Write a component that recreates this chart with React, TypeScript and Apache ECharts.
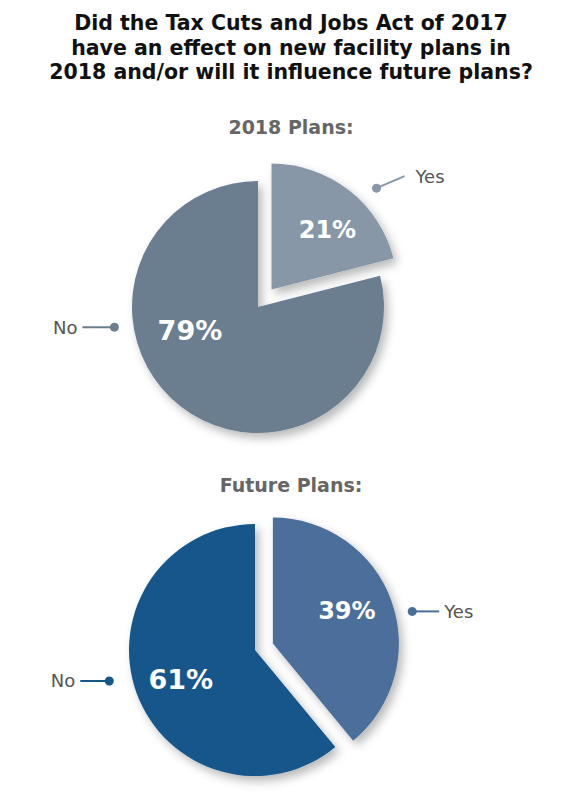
import { useEffect, useRef } from "react";
import * as echarts from "echarts";

const questionLines = [
  "Did the Tax Cuts and Jobs Act of 2017",
  "have an effect on new facility plans in",
  "2018 and/or will it influence future plans?",
];
const answers = ["Yes", "No"];
const plans2018 = [21, 79];
const plansFuture = [39, 61];
const panelTitles = ["2018 Plans:", "Future Plans:"];

const FONT = "'DejaVu Sans', Lato, sans-serif";
const RADIUS = 126;

// pct: [angle, distance] of the % label from the slice tip
// callout: [angle, distance, dx, dy, gap] of the dot, its line and the text
const panels = [
  {
    title: panelTitles[0],
    titleTop: 115,
    values: plans2018,
    colors: ["#8797a8", "#6b7e90"],
    center: [258, 307],
    offset: 22,
    pctSize: [24, 27],
    pct: [
      [43, 82],
      [251, 72],
    ],
    callout: [
      [46, 146, 28, -12, 11],
      [262, 145, -32, 0, 5],
    ],
  },
  {
    title: panelTitles[1],
    titleTop: 473,
    values: plansFuture,
    colors: ["#4b6e9b", "#14578b"],
    center: [255, 650],
    offset: 19,
    pctSize: [24, 27],
    pct: [
      [66, 81],
      [248, 80],
    ],
    callout: [
      [77, 143, 27, 0, 5],
      [258, 149, -29, 0, 5],
    ],
  },
];

type Panel = (typeof panels)[number];

const rad = (deg: number) => (deg * Math.PI) / 180;
const polar = (o: number[], deg: number, d: number) => [
  o[0] + d * Math.sin(rad(deg)),
  o[1] - d * Math.cos(rad(deg)),
];

function midAngles(values: number[]) {
  const total = values.reduce((a, b) => a + b, 0);
  let acc = 0;
  return values.map((v) => {
    const a0 = acc;
    acc += (v / total) * 360;
    return (a0 + acc) / 2;
  });
}

// tip of slice i (the "Yes" slice is pulled out)
function tip(p: Panel, i: number) {
  const mid = midAngles(p.values)[i];
  return i === 0 ? polar(p.center, mid, p.offset) : p.center;
}

const shadow = {
  shadowBlur: 10,
  shadowOffsetX: 4,
  shadowOffsetY: 5,
  shadowColor: "rgba(0, 0, 0, 0.28)",
};
const hidden = { color: "rgba(0,0,0,0)", shadowBlur: 0, shadowColor: "rgba(0,0,0,0)" };

export default function App() {
  const chartRef = useRef<HTMLDivElement>(null);

  useEffect(() => {
    if (!chartRef.current) return;
    document.body.style.margin = "0";

    const myChart = echarts.init(chartRef.current, null, { renderer: "svg" });

    const callouts = panels.flatMap((p) =>
      p.callout.flatMap(([ang, d, dx, dy, gap], i) => {
        const [x, y] = polar(tip(p, i), ang, d);
        const left = dx < 0;
        return [
          {
            type: "line",
            shape: { x1: x, y1: y, x2: x + dx, y2: y + dy },
            style: { stroke: p.colors[i], lineWidth: 2 },
          },
          {
            type: "circle",
            shape: { cx: x, cy: y, r: 4.5 },
            style: { fill: p.colors[i] },
          },
          {
            type: "text",
            x: x + dx + (left ? -gap : gap),
            y: y + dy,
            style: {
              text: answers[i],
              fill: "#555555",
              fontSize: 18,
              fontFamily: FONT,
              align: left ? "right" : "left",
              verticalAlign: "middle",
            },
          },
        ];
      })
    );

    // each pie is drawn twice: once whole at its centre (only "No" visible),
    // once moved out along the "Yes" slice (only "Yes" visible)
    const series = panels.flatMap((p) =>
      [1, 0].map((shown) => ({
        type: "pie",
        center: tip(p, shown),
        radius: RADIUS,
        startAngle: 90,
        clockwise: true,
        silent: true,
        label: {
          show: true,
          position: "inside",
          formatter: "{c}%",
          color: "#ffffff",
          fontFamily: FONT,
          fontWeight: "bold",
        },
        labelLine: { show: false },
        labelLayout: (params: any) => {
          const i = params.dataIndex;
          const [ang, d] = p.pct[i];
          const [x, y] = polar(tip(p, i), ang, d);
          return { x, y, align: "center", verticalAlign: "middle" };
        },
        data: answers.map((name, i) => ({
          name,
          value: p.values[i],
          itemStyle: i === shown ? { color: p.colors[i], ...shadow } : hidden,
          label: { show: i === shown, fontSize: p.pctSize[i] },
        })),
      }))
    );

    const option = {
      animation: false,
      title: [
        {
          text: questionLines.join("\n"),
          left: "center",
          top: 11,
          padding: 0,
          textStyle: {
            fontSize: 20.5,
            fontWeight: "bold",
            color: "#111111",
            lineHeight: 24.5,
            fontFamily: FONT,
          },
        },
        ...panels.map((p) => ({
          text: p.title,
          left: "center",
          top: p.titleTop,
          padding: 0,
          textStyle: {
            fontSize: 19,
            fontWeight: "bold",
            color: "#666666",
            lineHeight: 24,
            fontFamily: FONT,
          },
        })),
      ],
      graphic: callouts,
      series,
    };

    myChart.setOption(option);

    return () => {
      myChart.dispose();
    };
  }, []);

  return <div ref={chartRef} style={{ width: 582, height: 800 }} />;
}
